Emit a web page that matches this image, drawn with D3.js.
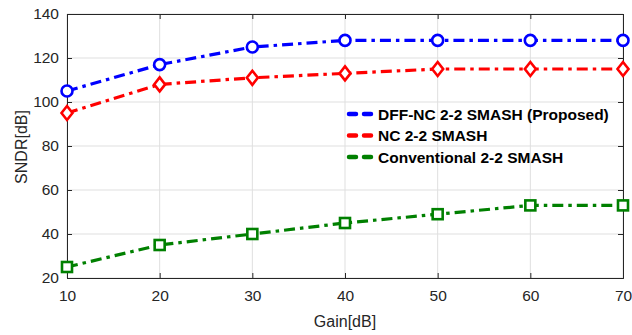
<!DOCTYPE html>
<html>
<head>
<meta charset="utf-8">
<script src="https://cdn.jsdelivr.net/npm/d3@7"></script>
<style>
  body { margin: 0; background: #fff; }
  svg { display: block; font-family: "Liberation Sans", Arial, sans-serif; }
</style>
</head>
<body>
<svg id="chart" width="632" height="335"></svg>
<script>
// Gain sweep (dB)
const gains = [10, 20, 30, 40, 50, 60, 70];
// SNDR results (dB) per architecture
const dffNc = [105, 117, 125, 128, 128, 128, 128];
const nc = [95, 108, 111, 113, 115, 115, 115];
const conventional = [25, 35, 40, 45, 49, 53, 53];
const seriesNames = ["DFF-NC 2-2 SMASH (Proposed)", "NC 2-2 SMASH", "Conventional 2-2 SMASH"];
const xTicks = [10, 20, 30, 40, 50, 60, 70];
const yTicks = [20, 40, 60, 80, 100, 120, 140];

const series = [
  { name: seriesNames[0], values: dffNc, color: "#0000ff", marker: "circle" },
  { name: seriesNames[1], values: nc, color: "#ff0000", marker: "diamond" },
  { name: seriesNames[2], values: conventional, color: "#008000", marker: "square" }
];

const svg = d3.select("#chart");
const L = 67, R = 623, T = 14, B = 278;
const x = d3.scaleLinear().domain([10, 70]).range([L, R]);
const y = d3.scaleLinear().domain([20, 140]).range([B, T]);

// grid
const g = svg.append("g");
g.selectAll(".gx").data(xTicks).join("line")
  .attr("x1", d => x(d)).attr("x2", d => x(d)).attr("y1", T).attr("y2", B)
  .attr("stroke", "#dfdfdf").attr("stroke-width", 1);
g.selectAll(".gy").data(yTicks).join("line")
  .attr("x1", L).attr("x2", R).attr("y1", d => y(d)).attr("y2", d => y(d))
  .attr("stroke", "#dfdfdf").attr("stroke-width", 1);

// axes
const axisColor = "#262626";
const xAxis = svg.append("g").attr("transform", `translate(0,${B})`)
  .call(d3.axisBottom(x).tickValues(xTicks).tickSize(-5).tickPadding(12).tickFormat(d3.format("d")));
const xTop = svg.append("g").attr("transform", `translate(0,${T})`)
  .call(d3.axisTop(x).tickValues(xTicks).tickSize(-5).tickFormat(""));
const yAxis = svg.append("g").attr("transform", `translate(${L},0)`)
  .call(d3.axisLeft(y).tickValues(yTicks).tickSize(-5).tickPadding(8).tickFormat(d3.format("d")));
const yRight = svg.append("g").attr("transform", `translate(${R},0)`)
  .call(d3.axisRight(y).tickValues(yTicks).tickSize(-5).tickFormat(""));
[xAxis, xTop, yAxis, yRight].forEach(a => {
  a.selectAll("path").attr("stroke", axisColor).attr("stroke-width", 1);
  a.selectAll("line").attr("stroke", axisColor);
  a.selectAll("text").attr("fill", axisColor).style("font-size", "15.5px");
});

// axis labels
svg.append("text").attr("x", (L + R) / 2).attr("y", 327).attr("text-anchor", "middle")
  .attr("fill", axisColor).style("font-size", "16px").text("Gain[dB]");
svg.append("text").attr("transform", `translate(27,${(T + B) / 2 + 1}) rotate(-90)`)
  .attr("text-anchor", "middle").attr("fill", axisColor).style("font-size", "16px").text("SNDR[dB]");

// lines and markers
const line = d3.line().x((d, i) => x(gains[i])).y(d => y(d));
const dash = "11,5,3.5,5";
series.forEach(s => {
  svg.append("path").datum(s.values).attr("d", line)
    .attr("fill", "none").attr("stroke", s.color).attr("stroke-width", 3.2)
    .attr("stroke-dasharray", dash);
  const m = svg.append("g");
  s.values.forEach((v, i) => {
    const cx = x(gains[i]), cy = y(v);
    if (s.marker === "circle") {
      m.append("circle").attr("cx", cx).attr("cy", cy).attr("r", 5.5)
        .attr("fill", "#fff").attr("stroke", s.color).attr("stroke-width", 2.6);
    } else if (s.marker === "diamond") {
      m.append("path").attr("d", `M${cx},${cy - 7}L${cx + 5.5},${cy}L${cx},${cy + 7}L${cx - 5.5},${cy}Z`)
        .attr("fill", "#fff").attr("stroke", s.color).attr("stroke-width", 2.6);
    } else {
      m.append("rect").attr("x", cx - 5).attr("y", cy - 5).attr("width", 10).attr("height", 10)
        .attr("fill", "#fff").attr("stroke", s.color).attr("stroke-width", 2.6);
    }
  });
});

// legend
const leg = svg.append("g");
series.forEach((s, i) => {
  const ly = 114 + i * 21.5;
  leg.append("line").attr("x1", 349).attr("x2", 371).attr("y1", ly).attr("y2", ly)
    .attr("stroke", s.color).attr("stroke-width", 4.5).attr("stroke-linecap", "round")
    .attr("stroke-dasharray", "7,8");
  leg.append("text").attr("x", 378).attr("y", ly + 5.5).attr("fill", "#000")
    .style("font-size", "15.5px").style("font-weight", "bold").text(s.name);
});
</script>
</body>
</html>
